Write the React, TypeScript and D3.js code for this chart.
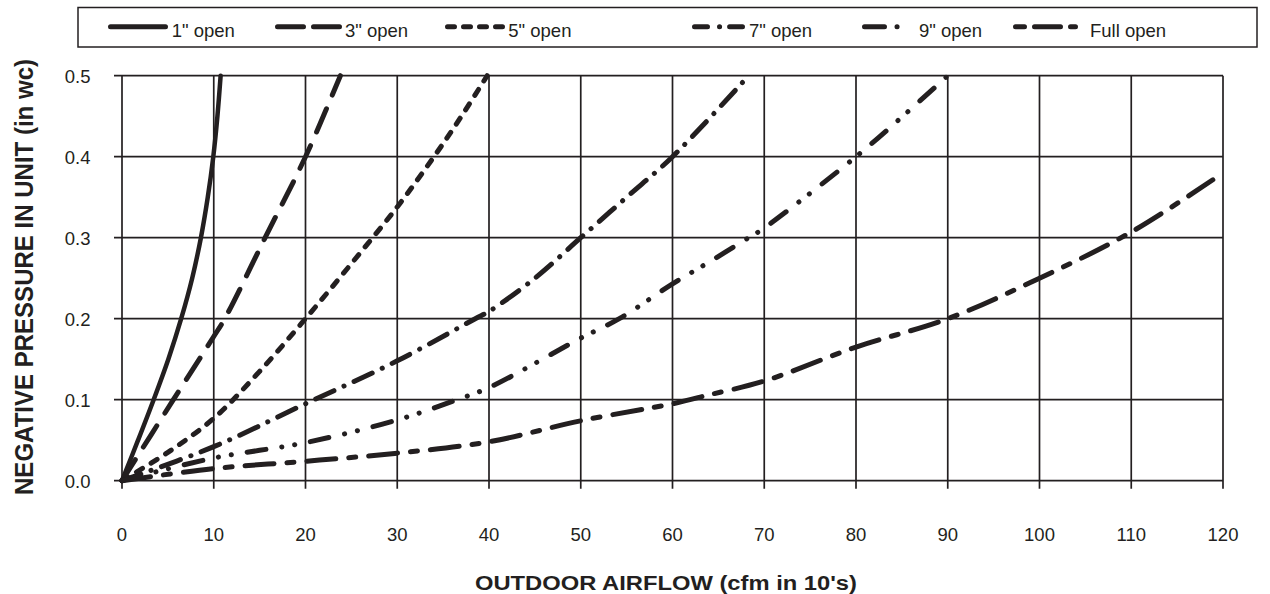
import React, { useEffect, useRef } from "react";
import * as d3 from "d3";

const xTicks = [0, 10, 20, 30, 40, 50, 60, 70, 80, 90, 100, 110, 120];
const yTicks = [0, 0.1, 0.2, 0.3, 0.4, 0.5];

const seriesNames = ['1" open', '3" open', '5" open', '7" open', '9" open', "Full open"];

const open1X = [0, 1.75, 3.45, 5.05, 6.45, 7.65, 8.6, 9.35, 9.95, 10.4, 10.75];
const open1Y = [0, 0.05, 0.1, 0.15, 0.2, 0.25, 0.3, 0.35, 0.4, 0.45, 0.5];

const open3X = [0, 5.6, 10, 11.2, 15.6, 20, 23.8];
const open3Y = [0, 0.1, 0.178, 0.2, 0.3, 0.4, 0.5];

const open5X = [0, 5, 10, 15, 20, 25, 30, 34, 37, 39.8];
const open5Y = [0, 0.035, 0.077, 0.135, 0.2, 0.268, 0.338, 0.4, 0.45, 0.5];

const open7X = [0, 10, 20, 30, 38.5, 40, 45, 50, 55, 60, 68.3];
const open7Y = [0, 0.042, 0.095, 0.148, 0.2, 0.209, 0.25, 0.3, 0.35, 0.4, 0.5];

const open9X = [0, 10, 20, 30, 36.5, 40, 50, 54.2, 60, 64, 68.3, 70, 80, 85, 90];
const open9Y = [0, 0.028, 0.047, 0.075, 0.1, 0.115, 0.176, 0.2, 0.243, 0.27, 0.3, 0.312, 0.4, 0.449, 0.5];

const fullX = [0, 10, 20, 30, 40, 50, 60, 64, 70, 80, 90, 100, 110, 120];
const fullY = [0, 0.015, 0.024, 0.034, 0.048, 0.074, 0.095, 0.106, 0.123, 0.165, 0.2, 0.25, 0.307, 0.38];

const seriesX = [open1X, open3X, open5X, open7X, open9X, fullX];
const seriesY = [open1Y, open3Y, open5Y, open7Y, open9Y, fullY];

const INK = "#231f20";
const FONT = "'Liberation Sans', Arial, sans-serif";

// styles per series
const dashes = ["", "25,15", "7,10", "20,11,0.1,11", "19,16,0.1,13,0.1,16", "29,13,7,13"];
const widths = [4.5, 5, 5, 5, 5, 5];
// legend layout
const legLine = [
  [108, 168],
  [275, 342],
  [445, 505],
  [692, 745],
  [862, 907],
  [1013, 1078],
];
const legText = [171.7, 345, 508.3, 749, 919, 1090];
const legDash = ["", "26,10", "7,9", "13,12,0.1,10,20", "20,12.5,0.1,10,0.1,20", "9,10,26,10,5"];

export default function App() {
  const ref = useRef<SVGSVGElement>(null);

  useEffect(() => {
    const svg = d3.select(ref.current);
    svg.selectAll("*").remove();

    const x = d3.scaleLinear().domain([0, 120]).range([122, 1223]);
    const y = d3.scaleLinear().domain([0, 0.5]).range([480.7, 75.7]);

    svg.append("rect").attr("width", 1270).attr("height", 594).attr("fill", "#fff");

    // grid
    const g = svg.append("g");
    g.selectAll("line.v")
      .data(xTicks)
      .join("line")
      .attr("class", "v")
      .attr("x1", (d) => x(d))
      .attr("x2", (d) => x(d))
      .attr("y1", y(0.5))
      .attr("y2", y(0) + 8)
      .attr("stroke", INK)
      .attr("stroke-width", 1.7);
    g.selectAll("line.h")
      .data(yTicks)
      .join("line")
      .attr("class", "h")
      .attr("x1", x(0) - 8)
      .attr("x2", x(120))
      .attr("y1", (d) => y(d))
      .attr("y2", (d) => y(d))
      .attr("stroke", INK)
      .attr("stroke-width", 1.7);

    // tick labels
    g.selectAll("text.xt")
      .data(xTicks)
      .join("text")
      .attr("class", "xt")
      .attr("x", (d) => x(d))
      .attr("y", 540.7)
      .attr("text-anchor", "middle")
      .attr("font-family", FONT)
      .attr("font-size", 18.5)
      .attr("fill", INK)
      .text((d) => String(d));
    g.selectAll("text.yt")
      .data(yTicks)
      .join("text")
      .attr("class", "yt")
      .attr("x", 90.5)
      .attr("y", (d) => y(d) + 7.5)
      .attr("text-anchor", "end")
      .attr("font-family", FONT)
      .attr("font-size", 18.5)
      .attr("fill", INK)
      .text((d) => d3.format(".1f")(d));

    // curves
    const line = d3
      .line<[number, number]>()
      .x((d) => x(d[0]))
      .y((d) => y(d[1]))
      .curve(d3.curveCatmullRom.alpha(0.5));

    seriesX.forEach((xs, i) => {
      const pts: [number, number][] = xs.map((v, j) => [v, seriesY[i][j]]);
      svg
        .append("path")
        .attr("d", line(pts) as string)
        .attr("fill", "none")
        .attr("stroke", INK)
        .attr("stroke-width", widths[i])
        .attr("stroke-linecap", "round")
        .attr("stroke-linejoin", "round")
        .attr("stroke-dasharray", dashes[i] || null);
    });

    // titles
    svg
      .append("text")
      .attr("x", 666)
      .attr("y", 590)
      .attr("text-anchor", "middle")
      .attr("font-family", FONT)
      .attr("font-weight", "bold")
      .attr("font-size", 19.5)
      .attr("textLength", 382)
      .attr("lengthAdjust", "spacingAndGlyphs")
      .attr("fill", INK)
      .text("OUTDOOR AIRFLOW (cfm in 10's)");

    svg
      .append("text")
      .attr("transform", "translate(32.5,277) scale(1.25,1) rotate(-90)")
      .attr("text-anchor", "middle")
      .attr("font-family", FONT)
      .attr("font-weight", "bold")
      .attr("font-size", 20)
      .attr("textLength", 436)
      .attr("lengthAdjust", "spacingAndGlyphs")
      .attr("fill", INK)
      .text("NEGATIVE PRESSURE IN UNIT (in wc)");

    // legend
    const lg = svg.append("g");
    lg.append("rect")
      .attr("x", 78)
      .attr("y", 7.5)
      .attr("width", 1179)
      .attr("height", 39.5)
      .attr("fill", "#fff")
      .attr("stroke", INK)
      .attr("stroke-width", 1.5);
    seriesNames.forEach((name, i) => {
      const [a, b] = legLine[i];
      lg.append("line")
        .attr("x1", a + 2.5)
        .attr("x2", b - 2.5)
        .attr("y1", 26.7)
        .attr("y2", 26.7)
        .attr("stroke", INK)
        .attr("stroke-width", 5)
        .attr("stroke-linecap", "round")
        .attr("stroke-dasharray", legDash[i] || null);
      lg.append("text")
        .attr("x", legText[i])
        .attr("y", 36.5)
        .attr("font-family", FONT)
        .attr("font-size", 18.5)
        .attr("fill", INK)
        .text(name);
    });
  }, []);

  return (
    <svg
      ref={ref}
      width={1270}
      height={594}
      style={{ position: "absolute", left: 0, top: 0, display: "block" }}
    />
  );
}
